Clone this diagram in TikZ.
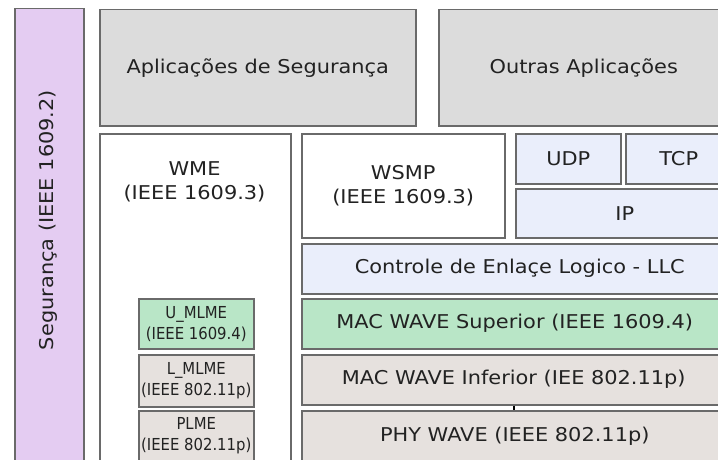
\documentclass[tikz,border=0pt]{standalone}
\usepackage{fontspec}
\setmainfont[FakeStretch=1.1]{DejaVu Sans}
\newfontfamily\narrowfont[FakeStretch=0.9]{DejaVu Sans}
\usepackage{tikz}

\definecolor{edgegray}{HTML}{6A6A6A}
\definecolor{inkgray}{HTML}{222222}
\definecolor{appgray}{HTML}{DCDCDC}
\definecolor{secpurple}{HTML}{E4CCF2}
\definecolor{netblue}{HTML}{EAEEFB}
\definecolor{macgreen}{HTML}{B9E6C7}
\definecolor{phybeige}{HTML}{E6E1DE}

\tikzset{
  layer/.style={draw=edgegray, line width=1.5pt, inner sep=0pt, anchor=north west,
    align=center, text=inkgray, font=\fontsize{19}{30}\selectfont},
  sublayer/.style={layer, font=\narrowfont\fontsize{16.5}{21}\selectfont},
}

\begin{document}
\begin{tikzpicture}[x=1pt,y=-1pt]
    \clip (0,0) rectangle (718,460);
    \fill[white] (0,0) rectangle (718,460);
    % Security plane on the left
    \node[layer,fill=secpurple,minimum width=69,minimum height=470] (sec) at (14,8) {};
    \node[rotate=90,text=inkgray,font=\fontsize{19}{24}\selectfont] (seclbl) at (48,220) {Segurança (IEEE 1609.2)};
    % Applications
    \node[layer,fill=appgray,minimum width=316,minimum height=116] (appseg) at (99,9) {Aplicações de Segurança};
    \node[layer,fill=appgray,minimum width=290,minimum height=116] (appout) at (438,9) {Outras Aplicações};
    % Management entity
    \node[layer,fill=white,minimum width=191,minimum height=340] (wme) at (99,133) {};
    \node[align=center,text=inkgray,font=\fontsize{19}{24}\selectfont] (wmelbl) at (194.5,182) {WME\\(IEEE 1609.3)};
    \node[sublayer,fill=macgreen,minimum width=115,minimum height=50] (umlme) at (138,298) {U\_MLME\\(IEEE 1609.4)};
    \node[sublayer,fill=phybeige,minimum width=115,minimum height=52] (lmlme) at (138,354) {L\_MLME\\(IEEE 802.11p)};
    \node[sublayer,fill=phybeige,minimum width=115,minimum height=50] (plme) at (138,410) {PLME\\(IEEE 802.11p)};
    % Data plane stack
    \node[layer,fill=white,minimum width=203,minimum height=104,font=\fontsize{19}{24}\selectfont] (wsmp) at (301,133) {WSMP\\(IEEE 1609.3)};
    \node[layer,fill=netblue,minimum width=105,minimum height=50] (udp) at (515,133) {UDP};
    \node[layer,fill=netblue,minimum width=106,minimum height=50] (tcp) at (625,133) {TCP};
    \node[layer,fill=netblue,minimum width=218,minimum height=49] (ip) at (515,188) {IP};
    \node[layer,fill=netblue,minimum width=436,minimum height=50] (llc) at (301,243) {Controle de Enlaçe Logico - LLC};
    \node[layer,fill=macgreen,minimum width=426,minimum height=50] (macsup) at (301,298) {MAC WAVE Superior (IEEE 1609.4)};
    \node[layer,fill=phybeige,minimum width=424,minimum height=50] (macinf) at (301,354) {MAC WAVE Inferior (IEE 802.11p)};
    \node[layer,fill=phybeige,minimum width=426,minimum height=52] (phy) at (301,410) {PHY WAVE (IEEE 802.11p)};
    \draw[black,line width=1.5pt] (macinf.south) -- (macinf.south |- phy.north);
\end{tikzpicture}
\end{document}
